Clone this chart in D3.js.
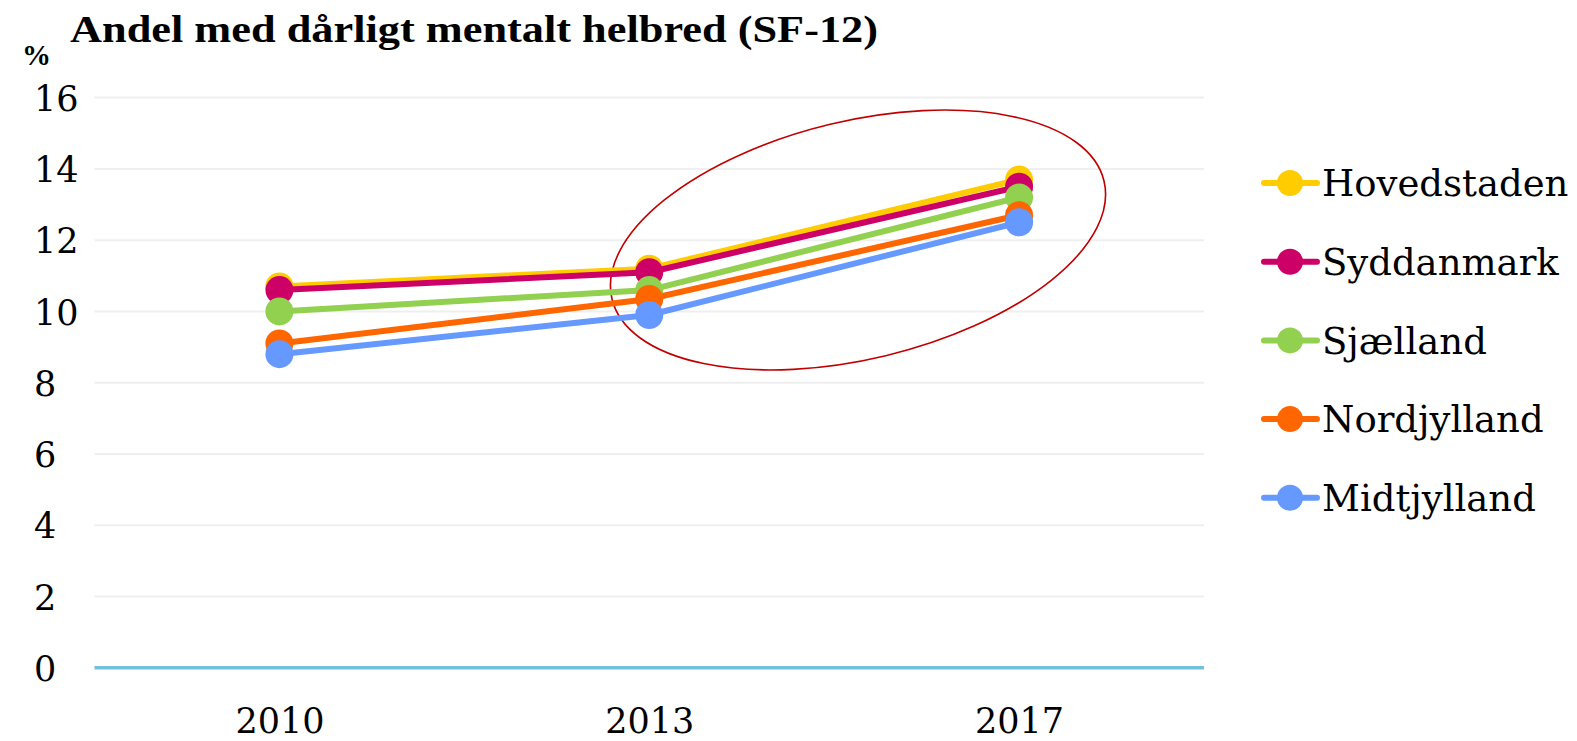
<!DOCTYPE html>
<html><head><meta charset="utf-8">
<script src="https://cdn.jsdelivr.net/npm/d3@7"></script>
<style>body{margin:0;background:#fff}svg{display:block}</style>
</head><body>
<svg id="c" width="1577" height="741"></svg>
<script>
const years = ["2010", "2013", "2017"];
const regions = ["Hovedstaden", "Syddanmark", "Sjælland", "Nordjylland", "Midtjylland"];
const colors = ["#FFCC00", "#CC0066", "#92D050", "#FF6600", "#6699FF"];
const hovedstaden = [10.7, 11.2, 13.7];
const syddanmark = [10.6, 11.1, 13.5];
const sjaelland = [10.0, 10.6, 13.2];
const nordjylland = [9.1, 10.35, 12.7];
const midtjylland = [8.8, 9.9, 12.5];
const yTicks = [0, 2, 4, 6, 8, 10, 12, 14, 16];
const title = "Andel med dårligt mentalt helbred (SF-12)";
const unitLabel = "%";

const seriesValues = [hovedstaden, syddanmark, sjaelland, nordjylland, midtjylland];
const series = regions.map((name, i) => ({name, color: colors[i], values: seriesValues[i]}));

const svg = d3.select("#c");
const L = 94.5, R = 1204, T = 97.6, B = 667.8;
const x = d3.scalePoint().domain(years).range([L, R]).padding(0.5);
const y = d3.scaleLinear().domain([0, 16]).range([B, T]);
const serif = "'DejaVu Serif', Georgia, serif";

// gridlines
svg.append("g").selectAll("line").data(yTicks.filter(d => d > 0)).join("line")
  .attr("x1", L).attr("x2", R).attr("y1", d => y(d)).attr("y2", d => y(d))
  .attr("stroke", "#EFEFEF").attr("stroke-width", 2);
// baseline
svg.append("line").attr("x1", L).attr("x2", R).attr("y1", y(0)).attr("y2", y(0))
  .attr("stroke", "#72C1D8").attr("stroke-width", 3.5);

// y axis labels
const yAxis = d3.axisLeft(y).tickValues(yTicks).tickSize(0).tickFormat(d3.format("d"));
const ya = svg.append("g").attr("transform", `translate(${L},0)`).call(yAxis);
ya.select(".domain").remove();
ya.selectAll("text").attr("x", 34 - L).attr("text-anchor", "start").attr("dy", "0.36em")
  .attr("font-family", serif).attr("font-size", 35).attr("fill", "#000");

// x axis labels
const xAxis = d3.axisBottom(x).tickSize(0);
const xa = svg.append("g").attr("transform", `translate(0,${B})`).call(xAxis);
xa.select(".domain").remove();
xa.selectAll("text").attr("y", 65).attr("dy", 0)
  .attr("font-family", serif).attr("font-size", 35).attr("fill", "#000");

// ellipse annotation
svg.append("ellipse").attr("cx", 858).attr("cy", 240).attr("rx", 253).attr("ry", 119)
  .attr("transform", "rotate(-13.5 858 240)")
  .attr("fill", "none").attr("stroke", "#C00000").attr("stroke-width", 1.6);

// series
const line = d3.line().x((d, i) => x(years[i])).y(d => y(d));
series.forEach(s => {
  const g = svg.append("g");
  g.append("path").attr("d", line(s.values)).attr("fill", "none")
    .attr("stroke", s.color).attr("stroke-width", 6).attr("stroke-linejoin", "round");
  g.selectAll("circle").data(s.values).join("circle")
    .attr("cx", (d, i) => x(years[i])).attr("cy", d => y(d)).attr("r", 14)
    .attr("fill", s.color);
});

// legend
const lg = svg.append("g");
series.forEach((s, i) => {
  const cy = 183 + i * 78.7;
  lg.append("line").attr("x1", 1264).attr("x2", 1317).attr("y1", cy).attr("y2", cy)
    .attr("stroke", s.color).attr("stroke-width", 6).attr("stroke-linecap", "round");
  lg.append("circle").attr("cx", 1290).attr("cy", cy).attr("r", 13).attr("fill", s.color);
  lg.append("text").attr("x", 1322).attr("y", cy).attr("dy", "0.36em")
    .attr("font-family", serif).attr("font-size", 37).attr("fill", "#000").text(s.name);
});

// title
svg.append("text").attr("x", 70).attr("y", 42).attr("font-family", "'Liberation Serif', serif")
  .attr("font-weight", "bold").attr("font-size", 38).attr("textLength", 808)
  .attr("lengthAdjust", "spacingAndGlyphs").attr("fill", "#000").text(title);
svg.append("text").attr("x", 22).attr("y", 65).attr("font-family", "'Liberation Serif', serif")
  .attr("font-weight", "bold").attr("font-size", 29).attr("fill", "#000").text(unitLabel);
</script>
</body></html>
